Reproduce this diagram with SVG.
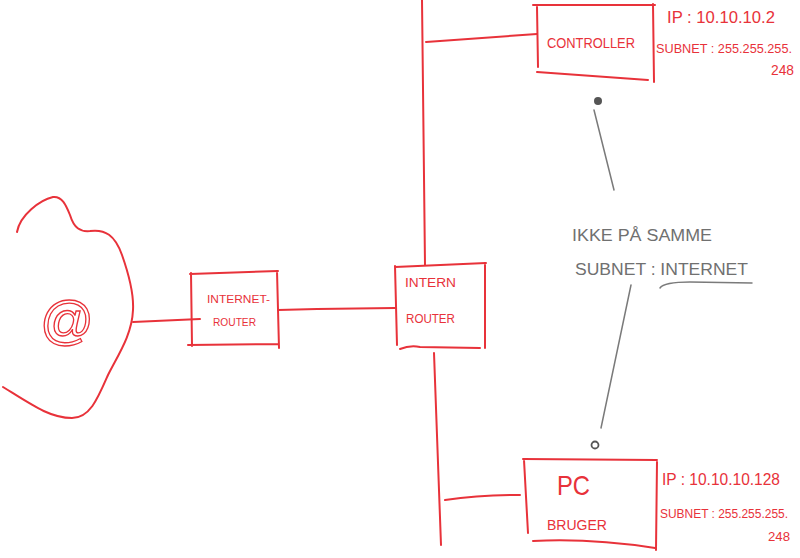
<svg xmlns="http://www.w3.org/2000/svg" width="800" height="558" viewBox="0 0 800 558">
<style>
.r{fill:none;stroke:#e8323a;stroke-width:2;stroke-linecap:round;stroke-linejoin:round}
.g{fill:none;stroke:#7a7a7a;stroke-width:1.5;stroke-linecap:round}
.t{fill:#e8323a;font-family:"Liberation Sans",Arial,sans-serif}
.gt{fill:#707070;font-family:"Liberation Sans",Arial,sans-serif}
</style>
<rect width="800" height="558" fill="#ffffff"/>
<g id="connectors">
<path class="r" d="M422,0 L425,265"/>
<path class="r" d="M426,42 L537,34"/>
<path class="r" d="M133,322 L200,319"/>
<path class="r" d="M278,310 L317,309 L395,308"/>
<path class="r" d="M434,353 L441,545"/>
<path class="r" d="M445,500 Q480,495 520,495"/>
<path class="g" d="M594,110 Q604,150 614,190"/>
<path class="g" d="M631,285 Q615,360 601,428"/>
</g>
<g id="cloud">
<path class="r" d="M17,232 C20,215 40,200 53,197 C62,196 66,205 70,215 C74,228 80,232 90,231 C105,229 115,235 122,255 C128,272 134,292 133,310 C132,335 118,355 108,375 C98,398 90,418 72,418 C50,418 32,405 3,387"/>
<text id="at" class="t" x="40" y="338" font-size="52" textLength="54" lengthAdjust="spacingAndGlyphs" style="fill:none;stroke:#e8323a;stroke-width:1.3">@</text>
</g>
<g id="internet-router">
<path class="r" d="M190,274 L278,271 M191,273 L192,346 M188,345 L278,344 M277,271 L279,348"/>
<text class="t" x="207" y="303" font-size="11" textLength="63" lengthAdjust="spacingAndGlyphs">INTERNET-</text>
<text class="t" x="213" y="326" font-size="11" textLength="43" lengthAdjust="spacingAndGlyphs">ROUTER</text>
</g>
<g id="intern-router">
<path class="r" d="M395,267 L486,263 M395,266 L397,345 M485,263 L485,348 M400,349 Q410,345 420,347 L480,348"/>
<text class="t" x="405" y="287" font-size="12" textLength="51" lengthAdjust="spacingAndGlyphs">INTERN</text>
<text class="t" x="406" y="323" font-size="12" textLength="49" lengthAdjust="spacingAndGlyphs">ROUTER</text>
</g>
<g id="controller">
<path class="r" d="M533,5 L655,5 M537,7 L538,67 M537,72 L648,80 M653,4 L654,82"/>
<text class="t" x="547" y="48" font-size="14" textLength="88" lengthAdjust="spacingAndGlyphs">CONTROLLER</text>
<text class="t" x="667" y="23" font-size="17" textLength="108" lengthAdjust="spacingAndGlyphs">IP : 10.10.10.2</text>
<text class="t" x="656" y="53" font-size="12.8" textLength="136" lengthAdjust="spacingAndGlyphs">SUBNET : 255.255.255.</text>
<text class="t" x="771" y="75" font-size="15" textLength="23" lengthAdjust="spacingAndGlyphs">248</text>
</g>
<g id="pc">
<path class="r" d="M523,459 L657,460 M524,460 L528,533 M533,541 Q590,538 655,548 M657,462 L656,550"/>
<text class="t" x="557" y="495" font-size="28" textLength="33" lengthAdjust="spacingAndGlyphs">PC</text>
<text class="t" x="547" y="530" font-size="15" textLength="60" lengthAdjust="spacingAndGlyphs">BRUGER</text>
<text class="t" x="662" y="485" font-size="17" textLength="118" lengthAdjust="spacingAndGlyphs">IP : 10.10.10.128</text>
<text class="t" x="660" y="518" font-size="12" textLength="128" lengthAdjust="spacingAndGlyphs">SUBNET : 255.255.255.</text>
<text class="t" x="768" y="541" font-size="13" textLength="22" lengthAdjust="spacingAndGlyphs">248</text>
</g>
<g id="note">
<circle cx="598" cy="101" r="4" fill="#555"/>
<circle cx="595" cy="445" r="3.5" fill="none" stroke="#555" stroke-width="1.8"/>
<text class="gt" x="572" y="241" font-size="16" textLength="140" lengthAdjust="spacingAndGlyphs">IKKE PÅ SAMME</text>
<text class="gt" x="575" y="275" font-size="16" textLength="173" lengthAdjust="spacingAndGlyphs">SUBNET : INTERNET</text>
<path class="g" d="M660,288 Q664,282 690,282 L752,283"/>
</g>
</svg>
